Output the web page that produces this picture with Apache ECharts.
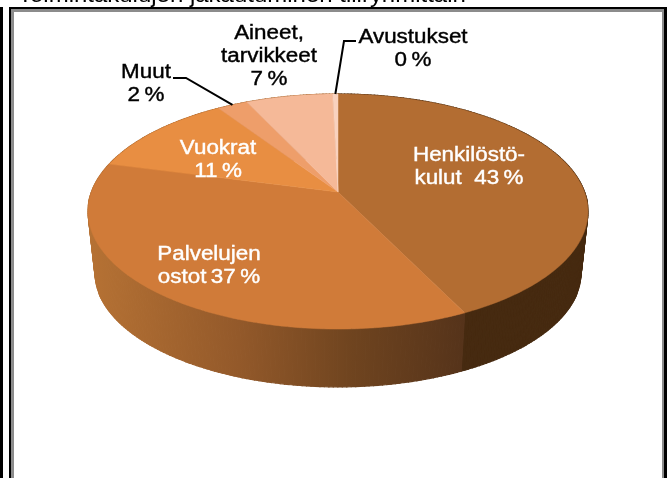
<!DOCTYPE html>
<html>
<head>
<meta charset="utf-8">
<style>
  html, body { margin: 0; padding: 0; background: #fff; overflow: hidden; }
  #chart { width: 668px; height: 478px; }
</style>
<script src="https://cdn.jsdelivr.net/npm/echarts@6/dist/echarts.min.js"></script>
</head>
<body>
<div id="chart"></div>
<script>
var titleText = 'Toimintakulujen jakautuminen tiliryhmittäin';
var categories = ['Henkilöstökulut', 'Palvelujen ostot', 'Vuokrat', 'Muut', 'Aineet, tarvikkeet', 'Avustukset'];
var shares = [42.8, 36.3, 11.6, 2.3, 6.6, 0.4];
var labelLines = [
  ['Henkilöstö-', 'kulut  43\u2009%'],
  ['Palvelujen', 'ostot\u200937\u2009%'],
  ['Vuokrat', '11\u2009%'],
  ['Muut', '2\u2009%'],
  ['Aineet,', 'tarvikkeet', '7\u2009%'],
  ['Avustukset', '0\u2009%']
];

// styles and layout, not data
var topColors = ['#b36d32', '#d07b39', '#e88e42', '#ee9e6a', '#f5b998', '#f9d2bf'];
var labelColors = ['#fff', '#fff', '#fff', '#000', '#000', '#000'];
var labelAnchors = [[469, 155], [209, 254], [218, 148], [146, 72], [269, 33], [413, 37]];
var leaderElbows = { 3: [[173, 78], [186, 78]], 5: [[356, 41], [344, 41]] };
var lineGap = 23;
var labelFont = '20px "Liberation Sans", Arial, sans-serif';
var labelStretch = 1.12;

// tilted disc: perspective projection of a circle, top face and bottom face
var upper = { cx: 338, cy: 192, rx: 246.5, ry: 114.3 };
var lower = { cx: 338, cy: 253.8, rx: 239.6, ry: 111 };
var persp = 0.166;

function project(pct, disc) {
  var a = pct / 100 * 2 * Math.PI;
  var u = Math.sin(a), v = -Math.cos(a);
  var d = 1 - persp * v;
  return [disc.cx + disc.rx * u / d, disc.cy + disc.ry * v / d];
}

var starts = [];
shares.reduce(function (sum, s, i) { starts[i] = sum; return sum + s; }, 0);

function rim(from, to, disc) {
  var pts = [], n = Math.max(2, Math.ceil((to - from) * 4));
  for (var i = 0; i <= n; i++) pts.push(project(from + (to - from) * i / n, disc));
  return pts;
}

function sideFill(i) {
  if (i === 1) {
    return new echarts.graphic.LinearGradient(88, 0, 465, 0, [
      { offset: 0, color: '#b67234' },
      { offset: 0.4, color: '#93592a' },
      { offset: 0.7, color: '#6f441f' },
      { offset: 1, color: '#55331a' }
    ], true);
  }
  return i === 0 ? '#462a10' : '#a8672f';
}

function renderSide(params, api) {
  var i = params.dataIndex;
  var a = rim(starts[i], starts[i] + api.value(1), upper);
  var b = rim(starts[i], starts[i] + api.value(1), lower);
  var fill = sideFill(i);
  var quads = [];
  for (var k = 0; k < a.length - 1; k++) {
    quads.push({
      type: 'polygon',
      shape: { points: [a[k], a[k + 1], b[k + 1], b[k]] },
      style: { fill: fill, stroke: fill, lineWidth: 1.2 }
    });
  }
  return { type: 'group', children: quads };
}

function renderTop(params, api) {
  var i = params.dataIndex;
  var pts = [[upper.cx, upper.cy]].concat(rim(starts[i], starts[i] + api.value(1), upper));
  return {
    type: 'polygon',
    shape: { points: pts },
    style: { fill: topColors[i], stroke: topColors[i], lineWidth: 0.5 }
  };
}

function renderLabel(params, api) {
  var i = params.dataIndex;
  var children = labelLines[i].map(function (line, k) {
    return {
      type: 'text',
      x: labelAnchors[i][0],
      y: labelAnchors[i][1] + k * lineGap,
      scaleX: labelStretch,
      style: {
        x: 0,
        y: 0,
        text: line,
        font: labelFont,
        fill: labelColors[i],
        stroke: labelColors[i],
        lineWidth: 0.4,
        align: 'center',
        verticalAlign: 'middle'
      }
    };
  });
  if (leaderElbows[i]) {
    var end = project(starts[i] + shares[i] / 2, upper);
    children.push({
      type: 'polyline',
      shape: { points: leaderElbows[i].concat([end]) },
      style: { fill: 'none', stroke: '#000', lineWidth: 2 }
    });
  }
  return { type: 'group', children: children };
}

var seriesData = categories.map(function (name, i) {
  return { name: name, value: [i, shares[i]] };
});

var chart = echarts.init(document.getElementById('chart'), null, { renderer: 'canvas' });
chart.setOption({
  animation: false,
  tooltip: { show: false },
  graphic: [
    // outer black bar on the left, frame and its grey inner edge
    { type: 'rect', shape: { x: 0, y: 7, width: 3, height: 471 }, style: { fill: '#000' }, z: 0 },
    { type: 'rect', shape: { x: 9, y: 7, width: 658, height: 471 }, style: { fill: '#000' }, z: 0 },
    { type: 'rect', shape: { x: 11, y: 9, width: 653, height: 469 }, style: { fill: '#8c8c8c' }, z: 0 },
    { type: 'rect', shape: { x: 14, y: 12, width: 648, height: 466 }, style: { fill: '#fff' }, z: 0 },
    {
      type: 'text', z: 1, x: 18, y: 7, scaleX: 1.09,
      style: {
        x: 0, y: 0, text: titleText, fill: '#000',
        font: '22px "Liberation Sans", Arial, sans-serif',
        verticalAlign: 'bottom'
      }
    }
  ],
  series: [
    { type: 'custom', coordinateSystem: 'none', silent: true, z: 2, renderItem: renderSide, data: seriesData },
    { type: 'custom', coordinateSystem: 'none', silent: true, z: 3, renderItem: renderTop, data: seriesData },
    { type: 'custom', coordinateSystem: 'none', silent: true, z: 4, renderItem: renderLabel, data: seriesData }
  ]
});
</script>
</body>
</html>
